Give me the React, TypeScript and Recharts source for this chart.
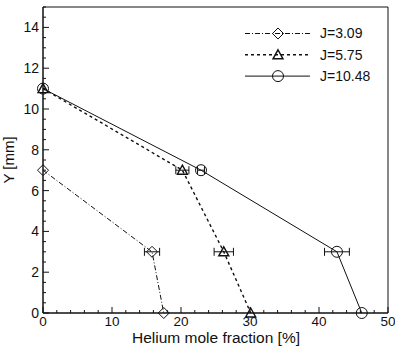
import React from "react";
import {
  ScatterChart,
  Scatter,
  XAxis,
  YAxis,
  ErrorBar,
  ReferenceLine,
  Legend,
} from "recharts";

// helium mole fraction [%] at each height Y [mm]
const j309X = [0, 15.8, 17.5];
const j309Y = [7, 3, 0];
const j309Err = [0, 1.1, 0];

const j575X = [0, 20.2, 26.2, 30.1];
const j575Y = [11, 7, 3, 0];
const j575Err = [0, 0.95, 1.4, 0];

const j1048X = [0, 22.9, 42.6, 46.2];
const j1048Y = [11, 7, 3, 0];
const j1048Err = [0, 0.5, 1.8, 0];

const seriesNames = ["J=3.09", "J=5.75", "J=10.48"];

const xTicks = [0, 2, 4, 6, 8, 10, 12, 14, 16, 18, 20, 22, 24, 26, 28, 30, 32, 34, 36, 38, 40, 42, 44, 46, 48, 50];
const xMajor = [0, 10, 20, 30, 40, 50];
const yTicks = [0, 0.5, 1, 1.5, 2, 2.5, 3, 3.5, 4, 4.5, 5, 5.5, 6, 6.5, 7, 7.5, 8, 8.5, 9, 9.5, 10, 10.5, 11, 11.5, 12, 12.5, 13, 13.5, 14, 14.5, 15];
const yMajor = [0, 2, 4, 6, 8, 10, 12, 14];

const build = (xs: number[], ys: number[], errs: number[]) =>
  xs.map((x, i) => ({ x, y: ys[i], err: errs[i] }));

const INK = "#111";
const FONT = "'Liberation Sans', Arial, sans-serif";

const styles = [
  { dash: "5 2 1 2", width: 1, marker: "diamond" },
  { dash: "3 3", width: 1.4, marker: "triangle" },
  { dash: undefined, width: 1, marker: "circle" },
];

function Marker({ kind, cx, cy }: { kind: string; cx: number; cy: number }) {
  if (kind === "diamond") {
    const r = 5.5;
    return (
      <path
        d={`M${cx},${cy - r}L${cx + r},${cy}L${cx},${cy + r}L${cx - r},${cy}Z`}
        fill="none"
        stroke={INK}
        strokeWidth={1}
      />
    );
  }
  if (kind === "triangle") {
    return (
      <path
        d={`M${cx},${cy - 5}L${cx + 5},${cy + 4}L${cx - 5},${cy + 4}Z`}
        fill="none"
        stroke={INK}
        strokeWidth={1.4}
      />
    );
  }
  return <circle cx={cx} cy={cy} r={5.5} fill="none" stroke={INK} strokeWidth={1} />;
}

function XTick(props: any) {
  const { x, y, payload } = props;
  const major = xMajor.includes(payload.value);
  return (
    <g>
      <line x1={x} x2={x} y1={y} y2={y - (major ? 6 : 3)} stroke={INK} strokeWidth={1} />
      {major && (
        <text x={x} y={y + 13} textAnchor="middle" fontSize={13.5} fill={INK} fontFamily={FONT}>
          {payload.value}
        </text>
      )}
    </g>
  );
}

function YTick(props: any) {
  const { x, y, payload } = props;
  const major = yMajor.includes(payload.value);
  return (
    <g>
      <line x1={x} x2={x + (major ? 6 : 3)} y1={y} y2={y} stroke={INK} strokeWidth={1} />
      {major && (
        <text x={x - 4} y={y} dy="0.35em" textAnchor="end" fontSize={14} fill={INK} fontFamily={FONT}>
          {payload.value}
        </text>
      )}
    </g>
  );
}

function LegendBox() {
  return (
    <svg width={395} height={100} style={{ display: "block", overflow: "visible" }}>
      {seriesNames.map((name, i) => {
        const y = 33.5 + i * 21.3;
        return (
          <g key={name}>
            <line
              x1={245}
              x2={310}
              y1={y}
              y2={y}
              stroke={INK}
              strokeWidth={styles[i].width}
              strokeDasharray={styles[i].dash}
            />
            <Marker kind={styles[i].marker} cx={278} cy={y} />
            <text x={320} y={y} dy="0.35em" fontSize={14} fill={INK} fontFamily={FONT}>
              {name}
            </text>
          </g>
        );
      })}
    </svg>
  );
}

export default function App() {
  const series = [
    build(j309X, j309Y, j309Err),
    build(j575X, j575Y, j575Err),
    build(j1048X, j1048Y, j1048Err),
  ];
  return (
    <div style={{ position: "absolute", left: 0, top: 0, background: "#fff" }}>
      <ScatterChart width={395} height={347} margin={{ top: 7, right: 7, left: 0, bottom: 0 }}>
        <XAxis
          type="number"
          dataKey="x"
          domain={[0, 50]}
          ticks={xTicks}
          interval={0}
          tickSize={0}
          tickMargin={0}
          tick={<XTick />}
          height={34}
          axisLine={{ stroke: INK, strokeWidth: 1.5 }}
          label={{
            content: () => (
              <text x={216} y={343} textAnchor="middle" fontSize={15.5} fill={INK} fontFamily={FONT}>
                Helium mole fraction [%]
              </text>
            ),
          }}
        />
        <YAxis
          type="number"
          dataKey="y"
          domain={[0, 15]}
          ticks={yTicks}
          interval={0}
          tickSize={0}
          tickMargin={0}
          tick={<YTick />}
          width={43}
          axisLine={{ stroke: INK, strokeWidth: 1.5 }}
          label={{
            content: () => (
              <text
                x={14}
                y={160}
                transform="rotate(-90 14 160)"
                textAnchor="middle"
                fontSize={15}
                fill={INK}
                fontFamily={FONT}
              >
                Y [mm]
              </text>
            ),
          }}
        />
        <ReferenceLine y={15} stroke={INK} strokeWidth={1} />
        <ReferenceLine x={50} stroke={INK} strokeWidth={1} />
        {series.map((data, i) => (
          <Scatter
            key={seriesNames[i]}
            name={seriesNames[i]}
            data={data}
            isAnimationActive={false}
            line={{ stroke: INK, strokeWidth: styles[i].width, strokeDasharray: styles[i].dash }}
            shape={(p: any) => <Marker kind={styles[i].marker} cx={p.cx} cy={p.cy} />}
          >
            <ErrorBar dataKey="err" direction="x" width={4} stroke={INK} strokeWidth={1} isAnimationActive={false} />
          </Scatter>
        ))}
        <Legend
          layout="horizontal"
          verticalAlign="middle"
          align="center"
          content={() => <LegendBox />}
          wrapperStyle={{ position: "absolute", left: 0, top: 0, width: 0, height: 0 }}
        />
      </ScatterChart>
    </div>
  );
}
